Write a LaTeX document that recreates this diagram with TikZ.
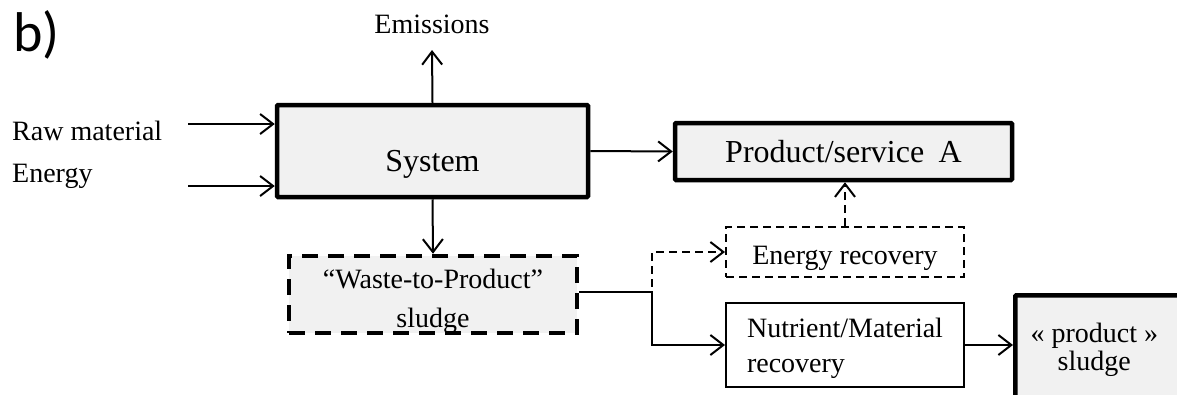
\documentclass[tikz,border=0pt]{standalone}
\usepackage{fontspec}
\setmainfont{Liberation Serif}
\newfontfamily\labfont{Carlito}
\usetikzlibrary{arrows.meta}
\definecolor{boxgray}{RGB}{241,241,241}
\tikzset{
  txt/.style={font=\fontsize{28}{34}\selectfont, inner sep=0pt},
  bigtxt/.style={font=\fontsize{32}{38}\selectfont},
  thickbox/.style={draw, line width=4.5pt, fill=boxgray, rounded corners=1pt, inner sep=0pt, align=center},
  dashbox/.style={draw, line width=4.5pt, fill=boxgray, dash pattern=on 16pt off 10pt, inner sep=0pt, align=center, font=\fontsize{28}{36}\selectfont},
  thinbox/.style={draw, line width=2pt, fill=white, inner sep=0pt, font=\fontsize{28}{34}\selectfont},
  thindash/.style={draw, line width=2pt, dash pattern=on 8pt off 5pt},
  flow/.style={line width=2pt, -{Straight Barb[length=13pt,width=20pt,line width=2pt]}},
  dflow/.style={flow, dash pattern=on 8pt off 5pt},
}
\begin{document}
\begin{tikzpicture}[x=1pt,y=-1pt]
\useasboundingbox (0,0) rectangle (1177,394);
\clip (0,0) rectangle (1177,394);
% label
\node[anchor=north west, inner sep=0pt, font=\labfont\fontsize{56}{60}\selectfont] (lab) at (13,10) {b)};
% main boxes
\node[thickbox, bigtxt, minimum width=311pt, minimum height=92pt, text height=40pt, text depth=0pt] (sys) at (432.5,151) {System};
\node[thickbox, bigtxt, minimum width=337pt, minimum height=57pt, text height=22pt, text depth=0pt] (prod) at (843.5,151.5) {Product/service\hspace{0.2em} A};
\node[thinbox, thindash, minimum width=238pt, minimum height=50pt, text height=24pt, text depth=0pt] (er) at (845,252) {Energy recovery};
\node[dashbox, minimum width=288pt, minimum height=77pt] (waste) at (433,294.5) {\raisebox{-6pt}[\height][\depth]{\begin{tabular}{@{}c@{}}``Waste-to-Product''\\[3pt]sludge\end{tabular}}};
\node[thinbox, minimum width=238pt, minimum height=84pt] (nut) at (845,345) {\raisebox{-3pt}[\height][\depth]{\begin{tabular}{@{}l@{}}Nutrient/Material\\[1pt]recovery\end{tabular}}};
\node[thickbox, anchor=north west, minimum width=180pt, minimum height=110pt, font=\fontsize{28}{30}\selectfont] (ps) at (1013,293) {\begin{tabular}{@{}c@{}}« product »\\[-2pt]sludge\end{tabular}\hspace*{22pt}};
% texts
\node[txt, anchor=base] (emis) at (432,33) {Emissions};
\node[txt, anchor=base west] (raw) at (12,140) {Raw material};
\node[txt, anchor=base west] (en) at (12,182) {Energy};
% free ends
\coordinate (emtip) at (432,50);
\coordinate (rawin) at (188,124);
\coordinate (enin) at (188,186);
\coordinate (split) at (652,292);
% connectors
\draw[flow] (sys.north) -- (emtip);
\draw[flow] (rawin) -- (rawin -| sys.west);
\draw[flow] (enin) -- (enin -| sys.west);
\draw[flow] (sys.east) -- (prod.west);
\draw[flow] (sys.south) -- (waste.north);
\draw[dflow] (er.north) -- (er.north |- prod.south);
\draw[flow] (waste.east |- split) -- (split) |- (nut.west);
\draw[dflow] (waste.east |- split) -- (split) |- (er.west);
\draw[flow] (nut.east) -- (nut.east -| ps.west);
\end{tikzpicture}
\end{document}
